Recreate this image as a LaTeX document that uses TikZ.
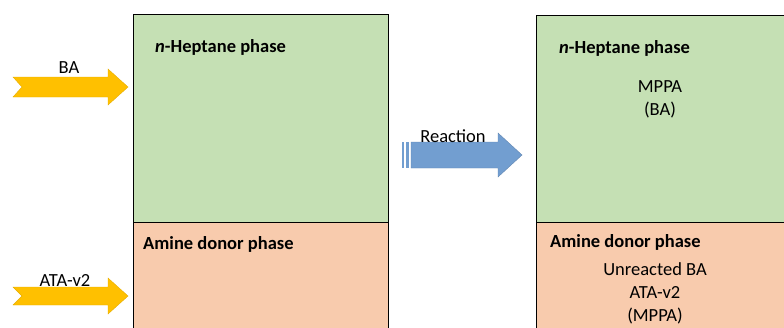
\documentclass[tikz,border=0pt]{standalone}
\usepackage{fontspec}
\setmainfont{Carlito}
\definecolor{heptane}{RGB}{197,224,180}
\definecolor{amine}{RGB}{248,203,173}
\definecolor{feed}{RGB}{255,192,0}
\definecolor{reactblue}{RGB}{114,158,208}
\begin{document}
\begin{tikzpicture}[x=1pt,y=-1pt,
  phase/.style={draw=black,line width=0.9pt},
  title/.style={anchor=west,inner sep=0pt,font=\fontsize{18.5}{22}\selectfont\bfseries},
  body/.style={align=center,inner sep=0pt,font=\fontsize{18.5}{23}\selectfont},
  lbl/.style={inner sep=0pt,font=\fontsize{18.5}{22}\selectfont},
  feedarrow/.style={fill=feed,draw=feed!90!black,line width=0.4pt}]
\useasboundingbox (0,0) rectangle (784,327);
\clip (0,0) rectangle (784,327);

% before reaction: two-phase system
\fill[heptane] (133,14) rectangle (388,222);
\fill[amine] (133,222) rectangle (388,340);
\draw[phase] (133,340) -- (133,14) -- (388,14) -- (388,340);
\draw[phase] (133,222) -- (388,222);
\node[title] (hepL) at (155,47) {\textit{n}-Heptane phase};
\node[title] (amiL) at (143,244) {Amine donor phase};

% after reaction
\fill[heptane] (536,15) rectangle (800,222);
\fill[amine] (536,222) rectangle (800,340);
\draw[phase] (536,340) -- (536,15) -- (800,15);
\draw[phase] (536,222) -- (800,222);
\node[title] (hepR) at (559,48) {\textit{n}-Heptane phase};
\node[title] (amiR) at (550,242) {Amine donor phase};
\node[body] (prodR) at (660,99) {MPPA\\(BA)};
\node[body] (mixR) at (655,293) {Unreacted BA\\ATA-v2\\(MPPA)};

% feed arrows
\draw[feedarrow] (13,77) -- (108,77) -- (108,69) -- (128,87) -- (108,105) -- (108,97) -- (13,97) -- (22,87) -- cycle;
\node[lbl] (ba) at (69,68) {BA};
\draw[feedarrow] (13,287) -- (108,287) -- (108,278) -- (128,296) -- (108,314) -- (108,305) -- (13,305) -- (22,296) -- cycle;
\node[lbl] (ata) at (65,280) {ATA-v2};

% reaction arrow (striped tail)
\fill[reactblue] (402,142) rectangle (404,168);
\fill[reactblue] (406,142) rectangle (409,168);
\draw[fill=reactblue,draw=reactblue!85!black,line width=0.4pt] (411,142) -- (498,142) -- (498,133) -- (522,155) -- (498,177) -- (498,168) -- (411,168) -- cycle;
\node[lbl] (react) at (453,136) {Reaction};
\end{tikzpicture}
\end{document}
